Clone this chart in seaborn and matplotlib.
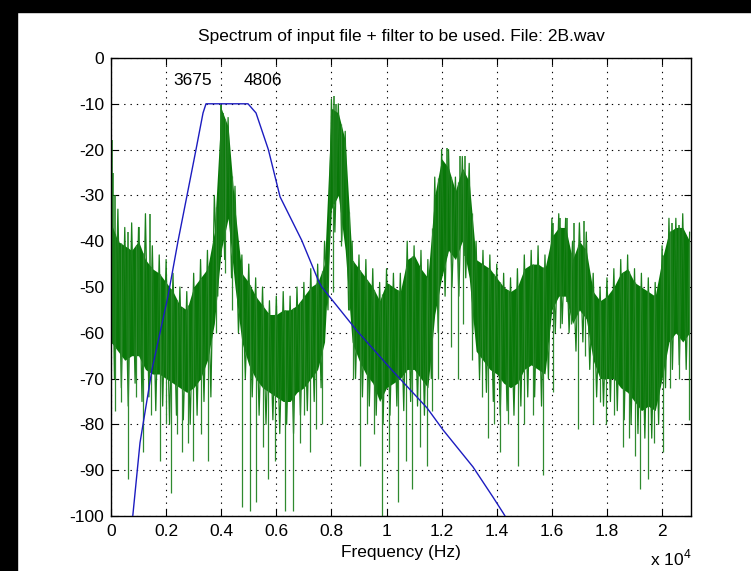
import numpy as np
import matplotlib
matplotlib.use("Agg")
import matplotlib.pyplot as plt
import seaborn as sns
from matplotlib.patches import Rectangle

# ---------------- data ----------------
# dense core of the spectrum, every 250 Hz
spec_step_hz = 250
spec_top_db = [-36, -40, -41, -42, -40, -44, -46, -47, -49, -51, -54, -55, -50, -48, -46,
               -38, -11, -15, -33, -47, -49, -52, -54, -56, -56, -55, -55, -54, -52, -50,
               -49, -45, -11, -12, -18, -44, -46, -48, -50, -53, -49, -50, -51, -44, -43,
               -46, -48, -30, -22, -24, -29, -24, -27, -44, -45, -46, -48, -50, -51, -50,
               -46, -45, -45, -46, -39, -37, -37, -44, -40, -42, -51, -53, -52, -50, -47,
               -46, -49, -50, -51, -52, -44, -38, -37, -37, -40]
spec_bot_db = [-62, -64, -66, -65, -65, -68, -69, -69, -70, -71, -72, -73, -72, -70, -66,
               -58, -42, -35, -50, -62, -67, -70, -72, -73, -74, -75, -75, -73, -72, -70,
               -68, -62, -33, -30, -42, -62, -66, -69, -71, -75, -72, -71, -70, -68, -68,
               -70, -72, -56, -48, -42, -44, -40, -48, -64, -66, -68, -69, -71, -72, -71,
               -68, -67, -68, -69, -55, -52, -52, -58, -55, -57, -66, -70, -70, -70, -72,
               -73, -75, -77, -76, -77, -70, -62, -60, -62, -60]

# ragged maxima (at k*250 Hz) and minima (at k*250+125 Hz) of the spectrum
spec_hi_db = [-18, -33, -37, -36, -37, -34, -41, -43, -44, -47, -50, -51, -47, -44, -42,
              -30, -10.3, -13, -28, -43, -45, -48, -50, -53, -52, -51, -52, -50, -49, -46,
              -45, -40, -9, -10, -16, -40, -43, -44, -46, -49, -46, -47, -47, -40, -41,
              -42, -44, -26, -20, -20, -26, -21.5, -23, -40, -42, -43, -45, -47, -48, -46,
              -43, -42, -41, -43, -35, -34, -35, -40, -36, -38, -47, -50, -48, -46, -44,
              -43, -46, -47, -48, -49, -41, -35, -35, -34, -38]
spec_lo_db = [-70, -72, -76, -71, -75, -74, -77, -76, -80, -78, -79, -80, -78, -75, -74,
              -52, -44, -48, -60, -70, -74, -78, -80, -79, -82, -80, -82, -78, -77, -75,
              -72, -55, -38, -40, -55, -70, -74, -76, -78, -80, -78, -76, -77, -75, -76,
              -78, -70, -60, -52, -50, -52, -48, -60, -70, -73, -75, -78, -77, -78, -76,
              -74, -74, -76, -70, -60, -58, -60, -64, -62, -68, -74, -76, -75, -77, -79,
              -80, -82, -83, -83, -80, -72, -68, -67, -68]

dip_hz = [145, 350, 617, 900, 1160, 1450, 1780, 2000, 2180, 2400, 2580, 2800, 2980, 3250,
          3520, 3800, 4150, 4400, 4760, 5045, 5276, 5500, 5700, 5950, 6320, 6600, 6850,
          7000, 7220, 7450, 7660, 8050, 8350, 8650, 8800, 9040, 9300, 9550, 9840, 10100,
          10420, 10700, 10930, 11200, 11470, 11650, 11870, 12350, 12600, 12780, 13100,
          13470, 13700, 13900, 14120, 14400, 14770, 15000, 15300, 15680, 16050, 16300,
          16700, 16950, 17200, 17500, 17750, 17950, 18250, 18590, 18800, 19000, 19200,
          19490, 19700, 20040, 20300, 20600, 20990]
dip_db = [-77, -75, -92, -74, -86, -78, -88, -80, -95, -82, -86, -84, -88, -82,
          -88, -60, -47, -55, -98, -99, -97, -85, -92, -88, -99, -99, -84,
          -78, -86, -81, -80, -51, -41, -55, -70, -89, -80, -82, -100, -86,
          -97, -88, -94, -85, -89, -77, -70, -63, -70, -58, -66,
          -74, -83, -80, -86, -80, -89, -80, -78, -91, -73, -59,
          -58, -81, -65, -80, -75, -80, -78, -85, -83, -87, -94,
          -92, -84, -86, -72, -70, -79]

peak_hz = [30, 60, 150, 600, 1000, 1410, 3980, 4080, 8100, 8180, 12200, 12680, 12850,
           16050, 16300, 16550, 16800, 17150, 20350, 20600]
peak_db = [-18, -25, -30, -38, -37, -34, -10.3, -12, -8.4, -10, -19.7, -21.5, -21.5,
           -36, -35, -35, -36, -35.5, -36, -36.5]

filt_hz = [790, 1053, 1488, 2069, 2432, 2759, 3085, 3340, 3448, 4973, 5263, 5711, 6135,
           6921, 7526, 7648, 8918, 10189, 11470, 12051, 13140, 13866, 14229, 14300]
filt_db = [-100, -84, -68, -52, -40, -30, -20, -12, -10, -10, -12, -20, -30.3,
           -39.8, -48.6, -50, -59.5, -68.1, -76.4, -81.2, -89.3, -95.9, -99.3, -100]

marker_hz = [3675, 4806]
marker_labels = ["3675", "4806"]

xtick_hz = [0, 2000, 4000, 6000, 8000, 10000, 12000, 14000, 16000, 18000, 20000]
xtick_labels = ["0", "0.2", "0.4", "0.6", "0.8", "1", "1.2", "1.4", "1.6", "1.8", "2"]
ytick_db = [0, -10, -20, -30, -40, -50, -60, -70, -80, -90, -100]

title = "Spectrum of input file + filter to be used. File: 2B.wav"
xlabel = "Frequency (Hz)"

# ---------------- style ----------------
sns.set_style("ticks")
plt.rcParams["font.family"] = ["Liberation Sans", "DejaVu Sans"]
plt.rcParams["axes.unicode_minus"] = False
plt.rcParams["mathtext.fontset"] = "custom"
plt.rcParams["mathtext.rm"] = "Liberation Sans"
FS = 12.5

GREEN = "#087808"
GREEN_LINE = "#1a801a"
GREEN_SPIKE = "#2f8a2f"
BLUE = "#1c1cc0"

fig = plt.figure(figsize=(7.51, 5.71), dpi=100)
fig.patch.set_facecolor("white")
ax = fig.add_axes([111 / 751, 1 - 516 / 571, 580 / 751, 458 / 571])
ax.set_facecolor("white")

freq = np.arange(len(spec_top_db)) * spec_step_hz
top = np.array(spec_top_db, dtype=float)
bot = np.array(spec_bot_db, dtype=float)

# dense core of the spectrum
ax.fill_between(freq, bot, top, color=GREEN, linewidth=0, zorder=2)

# ragged spectrum trace: maxima and minima interleaved
zz_hz = np.empty(len(spec_hi_db) + len(spec_lo_db))
zz_db = np.empty_like(zz_hz)
zz_hz[0::2] = freq
zz_hz[1::2] = freq[:-1] + spec_step_hz / 2
zz_db[0::2] = spec_hi_db
zz_db[1::2] = spec_lo_db
ax.plot(zz_hz, zz_db, color=GREEN_LINE, linewidth=0.9, zorder=2)

# isolated deep dips and tall spikes
ax.vlines(dip_hz, dip_db, np.interp(dip_hz, freq, top), color=GREEN_SPIKE, linewidth=0.9, zorder=2)
ax.vlines(peak_hz, np.interp(peak_hz, freq, bot), peak_db, color=GREEN_LINE, linewidth=1.1, zorder=2)

# filter response
sns.lineplot(x=filt_hz, y=filt_db, ax=ax, color=BLUE, linewidth=1.0, sort=False,
             estimator=None, zorder=3)

for hz, lab, ha in zip(marker_hz, marker_labels, ["right", "left"]):
    ax.text(hz, -5, lab, ha=ha, va="center", fontsize=FS, color="black")

ax.set_xlim(0, 21050)
ax.set_ylim(-100, 0)
ax.set_xticks(xtick_hz)
ax.set_xticklabels(xtick_labels)
ax.set_yticks(ytick_db)
ax.set_yticklabels([str(v) for v in ytick_db])
ax.tick_params(direction="in", length=5, width=0.8, top=True, right=True,
               labelsize=FS, colors="black")
ax.tick_params(axis="y", pad=5)
ax.tick_params(axis="x", pad=6)
for s in ax.spines.values():
    s.set_visible(True)
    s.set_color("black")
    s.set_linewidth(1.0)
ax.grid(True, color="black", linestyle=(0, (1.2, 4.5)), linewidth=0.8)
for gl in ax.get_xgridlines() + ax.get_ygridlines():
    gl.set_zorder(4)

ax.set_title(title, fontsize=FS, pad=12, color="black")
ax.set_xlabel(xlabel, fontsize=FS, labelpad=4, color="black")
ax.text(1.0, -0.108, r"x 10$^{4}$", transform=ax.transAxes, ha="right", va="baseline",
        fontsize=FS, color="black")

# black window frame strips
fig.patches.append(Rectangle((0, 1 - 12 / 571), 1, 12 / 571, transform=fig.transFigure,
                             color="black", zorder=0))
fig.patches.append(Rectangle((0, 0), 17 / 751, 1, transform=fig.transFigure,
                             color="black", zorder=0))

fig.savefig("out.png", dpi=100)
